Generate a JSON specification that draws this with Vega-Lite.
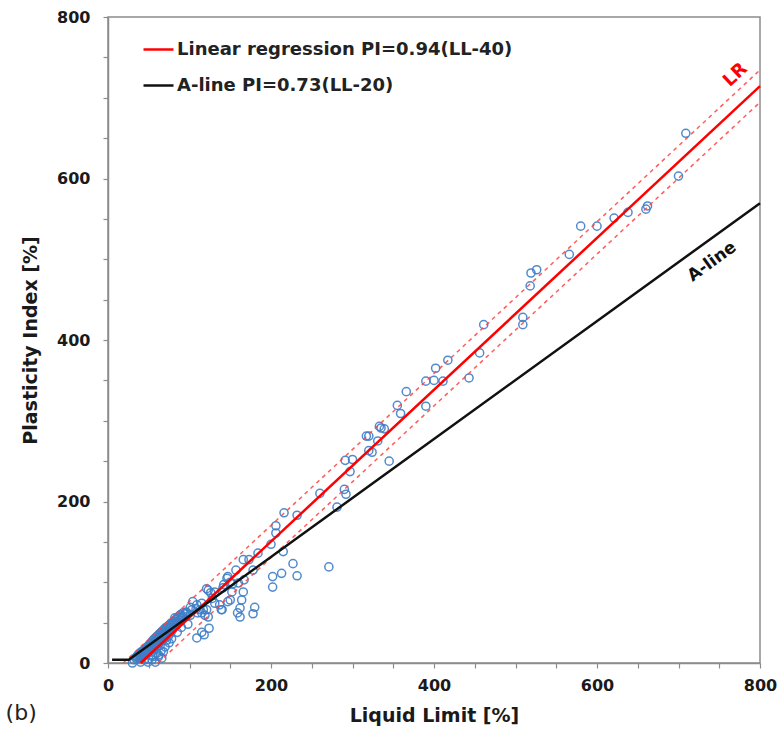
{
  "$schema": "https://vega.github.io/schema/vega-lite/v6.json",
  "width": 652,
  "height": 646,
  "autosize": "none",
  "padding": {"left": 108, "top": 17, "right": 22, "bottom": 67},
  "background": "white",
  "title": {"text": "(b)", "orient": "bottom", "anchor": "start", "frame": "bounds", "fontSize": 22, "fontWeight": "normal", "font": "DejaVu Sans", "color": "#222", "offset": -22, "dx": -16},
  "config": {
    "view": {"stroke": "#8c8c8c", "strokeWidth": 1.5},
    "axis": {
      "grid": false,
      "domainColor": "#8c8c8c",
      "domainWidth": 1.5,
      "tickColor": "#8c8c8c",
      "tickSize": 5,
      "tickWidth": 1.2,
      "labelFont": "DejaVu Sans",
      "labelFontSize": 16,
      "labelFontWeight": "bold",
      "labelColor": "#1a1a1a",
      "titleFont": "DejaVu Sans",
      "titleFontSize": 19,
      "titleFontWeight": "bold",
      "titleColor": "#1a1a1a"
    }
  },
  "layer": [
    {
      "data": {"values": [
        {"LL":709,"PI":656},{"LL":700,"PI":603},{"LL":662,"PI":566},{"LL":660,"PI":562},{"LL":638,"PI":558},{"LL":621,"PI":551},{"LL":600,"PI":541},{"LL":580,"PI":541},{"LL":566,"PI":506},{"LL":526,"PI":487},{"LL":519,"PI":483},{"LL":518,"PI":467},{"LL":509,"PI":428},{"LL":509,"PI":419},
        {"LL":461,"PI":419},{"LL":456,"PI":384},{"LL":443,"PI":353},{"LL":417,"PI":375},{"LL":402,"PI":365},{"LL":400,"PI":350},{"LL":411,"PI":349},{"LL":390,"PI":349},{"LL":390,"PI":318},{"LL":366,"PI":336},{"LL":355,"PI":319},{"LL":359,"PI":309},{"LL":345,"PI":250},{"LL":333,"PI":293},{"LL":335,"PI":291},{"LL":339,"PI":290},{"LL":317,"PI":281},{"LL":320,"PI":281},{"LL":331,"PI":275},{"LL":320,"PI":263},{"LL":324,"PI":261},{"LL":291,"PI":251},{"LL":300,"PI":252},{"LL":297,"PI":237},{"LL":290,"PI":215},{"LL":292,"PI":209},
        {"LL":260,"PI":210},{"LL":281,"PI":193},{"LL":216,"PI":186},{"LL":232,"PI":183},{"LL":206,"PI":170},{"LL":206,"PI":161},{"LL":200,"PI":147},{"LL":215,"PI":138},{"LL":184,"PI":136},{"LL":173,"PI":128},{"LL":166,"PI":128},{"LL":157,"PI":115},{"LL":147,"PI":107},{"LL":178,"PI":115},{"LL":227,"PI":123},{"LL":271,"PI":119},{"LL":213,"PI":111},{"LL":202,"PI":107},{"LL":232,"PI":108},{"LL":202,"PI":94},
        {"LL":167,"PI":103},{"LL":153,"PI":98},{"LL":121,"PI":92},{"LL":126,"PI":87},{"LL":142,"PI":97},{"LL":164,"PI":78},{"LL":180,"PI":69},{"LL":178,"PI":61},{"LL":159,"PI":62},{"LL":162,"PI":57},{"LL":139,"PI":66},{"LL":147,"PI":76},{"LL":131,"PI":74},{"LL":121,"PI":66},{"LL":115,"PI":62},{"LL":113,"PI":66},{"LL":124,"PI":43},{"LL":109,"PI":31},{"LL":115,"PI":38},{"LL":118,"PI":35},{"LL":108,"PI":67},{"LL":103,"PI":66},{"LL":98,"PI":48},{"LL":92,"PI":62},{"LL":101,"PI":59},{"LL":81,"PI":51},
        {"LL":146,"PI":105},{"LL":150,"PI":100},{"LL":160,"PI":99},{"LL":166,"PI":88},{"LL":152,"PI":88},{"LL":141,"PI":93},{"LL":131,"PI":88},{"LL":123,"PI":90},{"LL":128,"PI":80},{"LL":137,"PI":72},{"LL":150,"PI":78},{"LL":162,"PI":68},{"LL":140,"PI":66},{"LL":115,"PI":74},{"LL":109,"PI":72},{"LL":104,"PI":76},{"LL":101,"PI":69},{"LL":117,"PI":66},{"LL":110,"PI":62},{"LL":119,"PI":59},{"LL":123,"PI":57},{"LL":97,"PI":62},{"LL":91,"PI":57},{"LL":82,"PI":56},
        {"LL":30,"PI":0},{"LL":49,"PI":1},{"LL":58,"PI":1},{"LL":66,"PI":6},{"LL":55,"PI":10},{"LL":62,"PI":8},{"LL":40,"PI":1},{"LL":54,"PI":4},
        {"LL":32,"PI":4},{"LL":34,"PI":6},{"LL":35,"PI":8},{"LL":36,"PI":5},{"LL":37,"PI":10},{"LL":38,"PI":7},{"LL":39,"PI":12},{"LL":40,"PI":9},{"LL":40,"PI":6},{"LL":41,"PI":14},{"LL":42,"PI":11},{"LL":42,"PI":8},{"LL":43,"PI":15},{"LL":44,"PI":12},{"LL":44,"PI":9},{"LL":45,"PI":17},{"LL":45,"PI":13},{"LL":46,"PI":10},{"LL":46,"PI":15},{"LL":47,"PI":19},{"LL":47,"PI":14},{"LL":48,"PI":16},{"LL":48,"PI":12},{"LL":49,"PI":20},{"LL":49,"PI":17},{"LL":50,"PI":14},{"LL":50,"PI":22},{"LL":51,"PI":18},{"LL":51,"PI":15},{"LL":52,"PI":24},{"LL":52,"PI":20},{"LL":53,"PI":17},{"LL":53,"PI":22},{"LL":54,"PI":26},{"LL":54,"PI":19},{"LL":55,"PI":23},{"LL":55,"PI":28},{"LL":56,"PI":21},{"LL":56,"PI":25},{"LL":57,"PI":30},{"LL":57,"PI":18},{"LL":58,"PI":27},{"LL":58,"PI":23},{"LL":59,"PI":32},{"LL":59,"PI":25},{"LL":60,"PI":29},{"LL":60,"PI":20},{"LL":61,"PI":34},{"LL":61,"PI":27},{"LL":62,"PI":31},{"LL":62,"PI":24},{"LL":63,"PI":36},{"LL":63,"PI":29},{"LL":64,"PI":33},{"LL":64,"PI":22},{"LL":65,"PI":38},{"LL":65,"PI":31},{"LL":66,"PI":35},{"LL":66,"PI":27},{"LL":67,"PI":40},{"LL":67,"PI":33},{"LL":68,"PI":37},{"LL":68,"PI":29},{"LL":69,"PI":42},{"LL":69,"PI":35},{"LL":70,"PI":39},{"LL":70,"PI":31},{"LL":71,"PI":44},{"LL":71,"PI":36},{"LL":72,"PI":41},{"LL":72,"PI":28},{"LL":73,"PI":45},{"LL":73,"PI":38},{"LL":74,"PI":43},{"LL":74,"PI":33},{"LL":75,"PI":47},{"LL":75,"PI":40},{"LL":76,"PI":44},{"LL":77,"PI":49},{"LL":77,"PI":37},{"LL":78,"PI":46},{"LL":79,"PI":50},{"LL":79,"PI":41},{"LL":80,"PI":48},{"LL":81,"PI":52},{"LL":81,"PI":44},{"LL":82,"PI":49},{"LL":83,"PI":54},{"LL":84,"PI":47},{"LL":85,"PI":56},{"LL":86,"PI":51},{"LL":87,"PI":58},{"LL":88,"PI":53},{"LL":89,"PI":60},{"LL":90,"PI":55},{"LL":92,"PI":58},{"LL":94,"PI":61},{"LL":96,"PI":63},{"LL":60,"PI":12},{"LL":65,"PI":15},{"LL":70,"PI":20},{"LL":75,"PI":25},{"LL":55,"PI":8},{"LL":50,"PI":5},{"LL":45,"PI":4},{"LL":62,"PI":10},{"LL":68,"PI":14},{"LL":78,"PI":30},{"LL":85,"PI":38},{"LL":90,"PI":44}
      ]},
      "mark": {"type": "point", "shape": "circle", "filled": false, "size": 66, "strokeWidth": 1.5, "color": "#3f7fc8", "opacity": 0.9},
      "encoding": {
        "x": {"field": "LL", "type": "quantitative", "scale": {"domain": [0, 800], "nice": false, "zero": false},
              "axis": {"title": "Liquid Limit [%]", "values": [0,50,100,150,200,250,300,350,400,450,500,550,600,650,700,750,800], "labelExpr": "datum.value % 200 === 0 ? datum.label : ''", "labelPadding": 9, "titlePadding": 13, "labelFlush": false}},
        "y": {"field": "PI", "type": "quantitative", "scale": {"domain": [0, 800], "nice": false, "zero": false},
              "axis": {"title": "Plasticity Index [%]", "values": [0,50,100,150,200,250,300,350,400,450,500,550,600,650,700,750,800], "labelExpr": "datum.value % 200 === 0 ? datum.label : ''", "labelPadding": 13, "titlePadding": 16, "labelFlush": false}}
      }
    },
    {
      "data": {"values": [
        {"band": "upper", "LL": 18.7, "PI": 0},
        {"band": "upper", "LL": 800, "PI": 734.4},
        {"band": "lower", "LL": 61.3, "PI": 0},
        {"band": "lower", "LL": 800, "PI": 694.4}
      ]},
      "mark": {"type": "line", "color": "#ff4040", "strokeWidth": 1.5, "strokeDash": [4, 4], "opacity": 0.85},
      "encoding": {
        "x": {"field": "LL", "type": "quantitative"},
        "y": {"field": "PI", "type": "quantitative"},
        "detail": {"field": "band"}
      }
    },
    {
      "data": {"values": [
        {"series": "Linear regression PI=0.94(LL-40)", "LL": 40, "PI": 0},
        {"series": "Linear regression PI=0.94(LL-40)", "LL": 800, "PI": 714.4},
        {"series": "A-line PI=0.73(LL-20)", "LL": 5, "PI": 4},
        {"series": "A-line PI=0.73(LL-20)", "LL": 25.5, "PI": 4},
        {"series": "A-line PI=0.73(LL-20)", "LL": 800, "PI": 569.4}
      ]},
      "mark": {"type": "line", "strokeWidth": 2.5},
      "encoding": {
        "x": {"field": "LL", "type": "quantitative"},
        "y": {"field": "PI", "type": "quantitative"},
        "order": {"field": "LL", "type": "quantitative"},
        "color": {"field": "series", "type": "nominal",
          "scale": {"domain": ["Linear regression PI=0.94(LL-40)", "A-line PI=0.73(LL-20)"], "range": ["#ff0000", "#111111"]},
          "legend": {"title": null, "orient": "none", "legendX": 34, "legendY": 16, "symbolType": "stroke", "symbolSize": 900, "symbolStrokeWidth": 2.5, "labelFont": "DejaVu Sans", "labelFontSize": 18, "labelFontWeight": "bold", "labelColor": "#222", "labelOffset": 2, "rowPadding": 10, "padding": 0, "labelLimit": 500}}
      }
    },
    {
      "data": {"values": [{"LL": 770, "PI": 728, "label": "LR"}]},
      "mark": {"type": "text", "angle": 317, "font": "DejaVu Sans", "fontSize": 18, "fontWeight": "bold", "color": "#ff0000", "align": "center", "baseline": "middle"},
      "encoding": {
        "x": {"field": "LL", "type": "quantitative"},
        "y": {"field": "PI", "type": "quantitative"},
        "text": {"field": "label"}
      }
    },
    {
      "data": {"values": [{"LL": 741, "PI": 497, "label": "A-line"}]},
      "mark": {"type": "text", "angle": 324, "font": "DejaVu Sans", "fontSize": 17, "fontWeight": "bold", "color": "#111111", "align": "center", "baseline": "middle"},
      "encoding": {
        "x": {"field": "LL", "type": "quantitative"},
        "y": {"field": "PI", "type": "quantitative"},
        "text": {"field": "label"}
      }
    }
  ]
}
